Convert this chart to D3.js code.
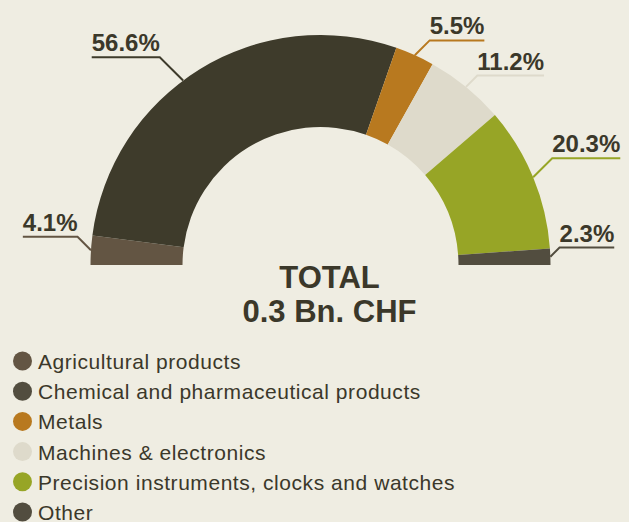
<!DOCTYPE html>
<html>
<head>
<meta charset="utf-8">
<script src="https://cdn.jsdelivr.net/npm/d3@7"></script>
<style>
  body { margin: 0; background: #efede2; }
  svg { display: block; }
</style>
</head>
<body>
<div id="chart"></div>
<script>
// categories, shares (%) and colours, in drawing order (left to right round the arc)
const categories = [
    "Agricultural products",
    "Chemical and pharmaceutical products",
    "Metals",
    "Machines & electronics",
    "Precision instruments, clocks and watches",
    "Other"
];
const shares = [4.1, 56.6, 5.5, 11.2, 20.3, 2.3];
const arcColors = ["#635543", "#3e3b2b", "#b8791f", "#dedacb", "#97a526", "#524d3f"];
const legendColors = ["#635543", "#524d3f", "#b8791f", "#dedacb", "#97a526", "#524d3f"];
const totalLines = ["TOTAL", "0.3 Bn. CHF"];

const width = 629, height = 522;
const cx = 320.5, cy = 265;
const rOuter = 230, rInner = 138;
const textColor = "#3b382a";

const svg = d3.select('#chart')
    .append('svg')
    .attr('width', width)
    .attr('height', height)
;

let data = categories.map((c, i) => ({name: c, value: shares[i], color: arcColors[i]}));

let pie = d3.pie()
    .sort(null)
    .value(d => d.value)
    .startAngle(-Math.PI / 2)
    .endAngle(Math.PI / 2)
;
let arc = d3.arc()
    .innerRadius(rInner)
    .outerRadius(rOuter)
;
let slices = pie(data);

let g = svg.append('g')
    .attr('transform', `translate(${cx}, ${cy})`)
;
g.selectAll('path')
    .data(slices)
    .enter()
    .append('path')
    .attr('d', arc)
    .style('fill', d => d.data.color)
;

// leader lines + percentage labels
// (diagonal length and a small angle nudge per label, as placed in the original)
let leaderLen = [19, 33, 21, 16, 27, 13];
let angleNudge = [0, -5, 0, 0, 0, 0];
slices.forEach((s, i) => {
    let a = (s.startAngle + s.endAngle) / 2 + angleNudge[i] * Math.PI / 180;
    let ax = Math.sin(a) * rOuter;
    let ay = -Math.cos(a) * rOuter;
    let side = a < 0 ? -1 : 1;
    let d = leaderLen[i] / Math.SQRT2;
    let ex = ax + side * d;
    let ey = ay - d;
    let label = g.append('text')
        .text(d3.format('.1f')(s.data.value) + '%')
        .style('font-family', 'Liberation Sans, Arial, sans-serif')
        .style('font-weight', 'bold')
        .style('font-size', '24px')
        .style('fill', textColor)
        .attr('y', ey - 6)
    ;
    let w = label.node().getComputedTextLength();
    if (side < 0) {
        label.attr('x', ex - w).attr('text-anchor', 'start');
    } else {
        label.attr('x', ex).attr('text-anchor', 'start');
    }
    g.append('path')
        .attr('d', `M${ax},${ay}L${ex},${ey}L${ex + side * w},${ey}`)
        .style('fill', 'none')
        .style('stroke', s.data.color)
        .style('stroke-width', 2)
    ;
});

// total in the middle
svg.selectAll('.total')
    .data(totalLines)
    .enter()
    .append('text')
    .attr('class', 'total')
    .text(d => d)
    .attr('x', cx + 9)
    .attr('y', (d, i) => 288 + i * 34)
    .attr('text-anchor', 'middle')
    .style('font-family', 'Liberation Sans, Arial, sans-serif')
    .style('font-weight', 'bold')
    .style('font-size', '31px')
    .style('fill', textColor)
;

// legend
let legend = svg.append('g')
    .attr('transform', 'translate(22.5, 361)')
;
let rows = legend.selectAll('g')
    .data(categories)
    .enter()
    .append('g')
    .attr('transform', (d, i) => `translate(0, ${i * 30.2})`)
;
rows.append('circle')
    .attr('r', 9.5)
    .style('fill', (d, i) => legendColors[i])
;
rows.append('text')
    .text(d => d)
    .attr('x', 15.5)
    .attr('y', 8)
    .style('font-family', 'Liberation Sans, Arial, sans-serif')
    .style('font-size', '21px')
    .style('letter-spacing', '0.55px')
    .style('fill', textColor)
;
</script>
</body>
</html>
